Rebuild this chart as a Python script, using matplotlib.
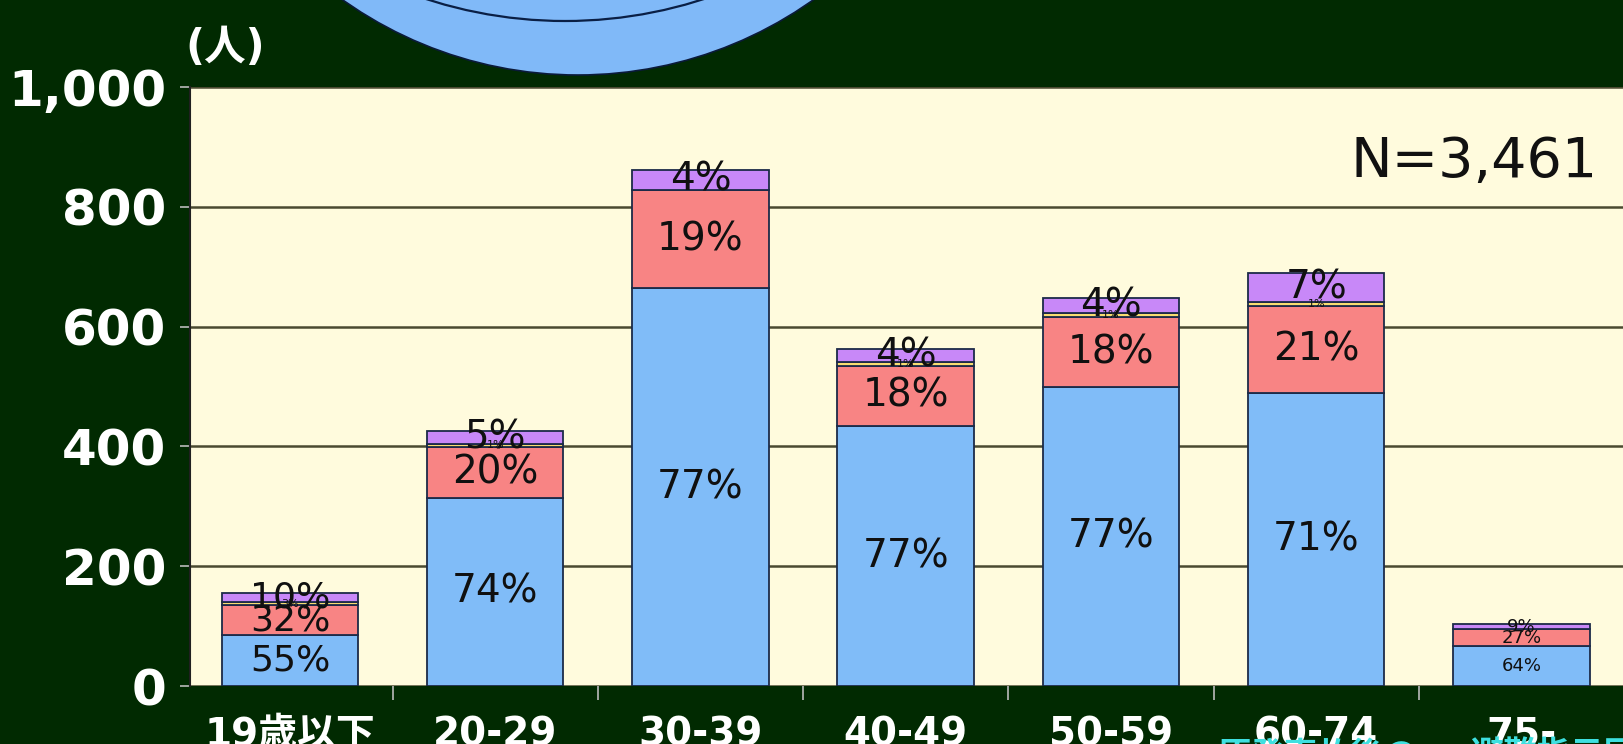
import numpy as np
import matplotlib
matplotlib.use("Agg")
import matplotlib.pyplot as plt
from matplotlib.patches import Ellipse

plt.rcParams['font.family'] = ['DejaVu Sans', 'Noto Sans CJK JP']

# age groups and number of people per group
ages = ["19歳以下", "20-29", "30-39", "40-49", "50-59", "60-74", "75-"]
totals = [155, 425, 862, 563, 648, 689, 104]

# share of each segment (%) inside every bar
blue_pct = [55, 74, 77, 77, 77, 71, 64]
red_pct = [32, 20, 19, 18, 18, 21, 27]
yellow_pct = [3, 1, 0, 1, 1, 1, 0]
purple_pct = [10, 5, 4, 4, 4, 7, 9]

yticks = [0, 200, 400, 600, 800, 1000]
ytick_labels = ["0", "200", "400", "600", "800", "1,000"]

BG = "#012a01"
CREAM = "#fffbdd"
colors = ["#80bcf8", "#f88484", "#f8dc70", "#c888f8"]
EDGE = "#1c2a48"

W, H = 1624, 744
fig = plt.figure(figsize=(W / 100, H / 100), dpi=100, facecolor=BG)

# decorative globe at the top
globe = Ellipse((578 / W, (H + 331) / H), 812 / W, 812 / H,
                transform=fig.transFigure, facecolor="#80b9f8",
                edgecolor="#0a1a3a", lw=1.2)
fig.add_artist(globe)
ring = Ellipse((565 / W, (H - 21 + 450) / H), 900 / W, 900 / H,
               transform=fig.transFigure, facecolor="none",
               edgecolor="#0a1f45", lw=1.6)
fig.add_artist(ring)

ax = fig.add_axes([190 / W, 58 / H, 1434 / W, 599 / H])
ax.set_facecolor(CREAM)

x = np.arange(len(ages))
tot = np.array(totals, dtype=float)
segments = [blue_pct, red_pct, yellow_pct, purple_pct]
bottom = np.zeros(len(ages))
width = 0.665
for k, pct in enumerate(segments):
    h = tot * np.array(pct) / 100.0
    ax.bar(x, h, width, bottom=bottom, color=colors[k], edgecolor=EDGE,
           lw=1.3, zorder=3)
    for i in range(len(ages)):
        if pct[i] == 0:
            continue
        yc = bottom[i] + h[i] / 2
        if k == 2:
            fs = 8
        elif tot[i] < 130:
            fs = 13
        elif i == 0:
            fs = 26
        else:
            fs = 28
        ax.text(x[i], yc, f"{pct[i]}%", ha="center", va="center",
                fontsize=fs, color="#101010", zorder=5)
    bottom += h

ax.set_xlim(-0.487, -0.487 + 1434 / 207.5)
ax.set_ylim(0, 1000)

ax.set_yticks(yticks)
ax.set_yticklabels(ytick_labels)
ax.yaxis.grid(True, color="#4a4a30", lw=1.8, zorder=1)
ax.set_axisbelow(True)
ax.tick_params(axis="y", colors="#bbbbbb", length=7, width=1.2, pad=10,
               labelsize=36, labelcolor="white")
for lab in ax.get_yticklabels():
    lab.set_fontweight("bold")

ax.set_xticks(x)
ax.set_xticklabels(ages)
ax.set_xticks(np.arange(len(ages)) + 0.5, minor=True)
ax.tick_params(axis="x", which="major", length=0, pad=21, labelsize=28,
               labelcolor="white")
ax.tick_params(axis="x", which="minor", length=10, width=1.2,
               colors="#bbbbbb")
for lab in ax.get_xticklabels():
    lab.set_fontweight("bold")

for side in ["top", "right", "bottom"]:
    ax.spines[side].set_visible(False)
ax.spines["left"].set_color("#202020")
ax.spines["left"].set_linewidth(1.5)

ax.text(6.37, 875, "N=3,461", ha="right", va="center", fontsize=40,
        color="#111111", zorder=5)

fig.text(225 / W, (H - 48) / H, "(人)", ha="center", va="center",
         fontsize=30, fontweight="bold", color="white")

# cyan captions cut off by the lower edge
fig.text(1217 / W, (H - 740) / H, "原発事故後の", ha="left", va="top",
         fontsize=24, fontweight="bold", color="#3ee0e0")
fig.text(1470 / W, (H - 740) / H, "避難指示区域", ha="left", va="top",
         fontsize=24, fontweight="bold", color="#3ee0e0")

fig.savefig("out.png", dpi=100, facecolor=BG)
